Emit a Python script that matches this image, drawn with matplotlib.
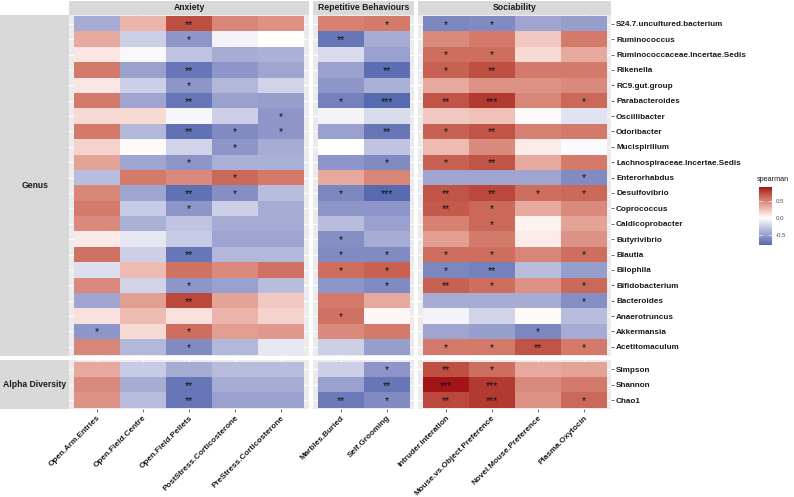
import numpy as np
import matplotlib
matplotlib.use("Agg")
import matplotlib.pyplot as plt
from matplotlib.colors import ListedColormap, Normalize

plt.rcParams['font.family'] = ['Liberation Sans', 'DejaVu Sans']

# ---------------- data ----------------
genus_rows = ["S24.7.uncultured.bacterium", "Ruminococcus", "Ruminococcaceae.Incertae.Sedis",
              "Rikenella", "RC9.gut.group", "Parabacteroides", "Oscillibacter", "Odoribacter",
              "Mucispirillum", "Lachnospiraceae.Incertae.Sedis", "Enterorhabdus", "Desulfovibrio",
              "Coprococcus", "Caldicoprobacter", "Butyrivibrio", "Blautia", "Bilophila",
              "Bifidobacterium", "Bacteroides", "Anaerotruncus", "Akkermansia", "Acetitomaculum"]
alpha_rows = ["Simpson", "Shannon", "Chao1"]

anxiety_cols = ["Open.Arm.Entries", "Open.Field.Centre", "Open.Field.Pellets",
                "PostStress.Corticosterone", "PreStress.Corticosterone"]
repetitive_cols = ["Marbles.Buried", "Self.Grooming"]
sociability_cols = ["Intruder.Interation", "Mouse.vs.Object.Preference",
                    "Novel.Mouse.Preference", "Plasma.Oxytocin"]

row_groups = ["Genus", "Alpha Diversity"]
col_groups = ["Anxiety", "Repetitive Behaviours", "Sociability"]

# spearman rho, rows = genus_rows + alpha_rows
anxiety_rho = [
    [-0.42, 0.30, 0.72, 0.50, 0.45],
    [0.35, -0.24, -0.54, -0.06, 0.00],
    [0.10, -0.03, -0.30, -0.42, -0.40],
    [0.55, -0.48, -0.72, -0.54, -0.46],
    [0.10, -0.24, -0.54, -0.36, -0.22],
    [0.55, -0.46, -0.72, -0.48, -0.50],
    [0.15, 0.15, -0.04, -0.24, -0.54],
    [0.55, -0.36, -0.74, -0.60, -0.54],
    [0.18, 0.02, -0.22, -0.54, -0.42],
    [0.38, -0.46, -0.54, -0.40, -0.40],
    [-0.34, 0.55, 0.48, 0.62, 0.55],
    [0.50, -0.46, -0.74, -0.58, -0.34],
    [0.55, -0.26, -0.54, -0.24, -0.42],
    [0.48, -0.40, -0.30, -0.42, -0.42],
    [0.08, -0.12, -0.26, -0.46, -0.46],
    [0.58, -0.24, -0.72, -0.36, -0.36],
    [-0.16, 0.28, 0.58, 0.48, 0.58],
    [0.48, -0.22, -0.54, -0.48, -0.34],
    [-0.46, 0.40, 0.75, 0.38, 0.22],
    [0.12, 0.28, 0.12, 0.30, 0.18],
    [-0.54, 0.15, 0.60, 0.40, 0.42],
    [0.50, -0.36, -0.60, -0.36, -0.12],
    [0.35, -0.26, -0.42, -0.34, -0.34],
    [0.48, -0.42, -0.72, -0.42, -0.42],
    [0.45, -0.34, -0.72, -0.48, -0.48],
]
repetitive_rho = [
    [0.52, 0.55], [-0.72, -0.42], [-0.18, -0.48], [-0.48, -0.76], [-0.54, -0.40],
    [-0.66, -0.79], [-0.06, -0.18], [-0.48, -0.72], [0.00, -0.30], [-0.54, -0.60],
    [0.35, 0.50], [-0.62, -0.78], [-0.54, -0.54], [-0.34, -0.48], [-0.58, -0.42],
    [-0.60, -0.60], [0.60, 0.65], [-0.54, -0.60], [0.55, 0.35], [0.58, 0.03],
    [0.48, 0.55], [-0.24, -0.50],
    [-0.24, -0.54], [-0.48, -0.72], [-0.70, -0.60],
]
sociability_rho = [
    [-0.62, -0.60, -0.46, -0.50],
    [0.48, 0.55, 0.22, 0.55],
    [0.60, 0.60, 0.15, 0.35],
    [0.65, 0.72, 0.55, 0.55],
    [0.35, 0.45, 0.45, 0.48],
    [0.70, 0.80, 0.50, 0.62],
    [0.22, 0.25, 0.02, -0.14],
    [0.65, 0.70, 0.52, 0.55],
    [0.28, 0.48, 0.08, -0.02],
    [0.65, 0.70, 0.35, 0.55],
    [-0.46, -0.46, -0.46, -0.60],
    [0.70, 0.75, 0.60, 0.62],
    [0.68, 0.62, 0.35, 0.48],
    [0.52, 0.62, 0.05, 0.38],
    [0.40, 0.55, 0.08, 0.45],
    [0.60, 0.60, 0.50, 0.60],
    [-0.62, -0.66, -0.34, -0.50],
    [0.65, 0.60, 0.45, 0.62],
    [-0.42, -0.42, -0.42, -0.58],
    [-0.06, -0.22, 0.02, -0.34],
    [-0.46, -0.50, -0.62, -0.42],
    [0.55, 0.55, 0.70, 0.55],
    [0.72, 0.60, 0.35, 0.38],
    [0.91, 0.80, 0.48, 0.55],
    [0.75, 0.80, 0.45, 0.62],
]

# significance level (number of stars)
anxiety_sig = [
    [0, 0, 2, 0, 0], [0, 0, 1, 0, 0], [0, 0, 0, 0, 0], [0, 0, 2, 0, 0], [0, 0, 1, 0, 0],
    [0, 0, 2, 0, 0], [0, 0, 0, 0, 1], [0, 0, 2, 1, 1], [0, 0, 0, 1, 0], [0, 0, 1, 0, 0],
    [0, 0, 0, 1, 0], [0, 0, 2, 1, 0], [0, 0, 1, 0, 0], [0, 0, 0, 0, 0], [0, 0, 0, 0, 0],
    [0, 0, 2, 0, 0], [0, 0, 0, 0, 0], [0, 0, 1, 0, 0], [0, 0, 2, 0, 0], [0, 0, 0, 0, 0],
    [1, 0, 1, 0, 0], [0, 0, 1, 0, 0],
    [0, 0, 0, 0, 0], [0, 0, 2, 0, 0], [0, 0, 2, 0, 0],
]
repetitive_sig = [
    [0, 1], [2, 0], [0, 0], [0, 2], [0, 0], [1, 3], [0, 0], [0, 2], [0, 0], [0, 1],
    [0, 0], [1, 3], [0, 0], [0, 0], [1, 0], [1, 1], [1, 1], [0, 1], [0, 0], [1, 0],
    [0, 0], [0, 0],
    [0, 1], [0, 2], [2, 1],
]
sociability_sig = [
    [1, 1, 0, 0], [0, 0, 0, 0], [1, 1, 0, 0], [1, 2, 0, 0], [0, 0, 0, 0],
    [2, 3, 0, 1], [0, 0, 0, 0], [1, 2, 0, 0], [0, 0, 0, 0], [1, 2, 0, 0],
    [0, 0, 0, 1], [2, 2, 1, 1], [2, 1, 0, 0], [0, 1, 0, 0], [0, 0, 0, 0],
    [1, 1, 0, 1], [1, 2, 0, 0], [2, 1, 0, 1], [0, 0, 0, 1], [0, 0, 0, 0],
    [0, 0, 1, 0], [1, 1, 2, 1],
    [2, 1, 0, 0], [3, 3, 0, 0], [2, 3, 0, 1],
]

legend_breaks = [-0.5, 0.0, 0.5]

# ---------------- colour scale (gradient2 in Lab) ----------------
LOW = np.array([54, 86, 163]) / 255.0
MID = np.array([255, 255, 255]) / 255.0
HIGH = np.array([163, 20, 24]) / 255.0
WHITE_REF = np.array([0.95047, 1.0, 1.08883])
M = np.array([[0.4124, 0.3576, 0.1805], [0.2126, 0.7152, 0.0722], [0.0193, 0.1192, 0.9505]])
Minv = np.linalg.inv(M)


def to_lab(c):
    lin = np.where(c <= 0.04045, c / 12.92, ((c + 0.055) / 1.055) ** 2.4)
    t = (M @ lin) / WHITE_REF
    f = np.where(t > 0.008856, np.cbrt(t), 7.787 * t + 16 / 116)
    return np.array([116 * f[1] - 16, 500 * (f[0] - f[1]), 200 * (f[1] - f[2])])


def from_lab(lab):
    fy = (lab[0] + 16) / 116
    fx = fy + lab[1] / 500
    fz = fy - lab[2] / 200
    f = np.array([fx, fy, fz])
    t = np.where(f ** 3 > 0.008856, f ** 3, (f - 16 / 116) / 7.787) * WHITE_REF
    lin = Minv @ t
    lin = np.clip(lin, 0, 1)
    c = np.where(lin <= 0.0031308, 12.92 * lin, 1.055 * lin ** (1 / 2.4) - 0.055)
    return np.clip(c, 0, 1)


lab_low, lab_mid, lab_high = to_lab(LOW), to_lab(MID), to_lab(HIGH)
cols = []
for t in np.linspace(0, 1, 512):
    if t < 0.5:
        s = t / 0.5
        lab = lab_low + (lab_mid - lab_low) * s
    else:
        s = (t - 0.5) / 0.5
        lab = lab_mid + (lab_high - lab_mid) * s
    cols.append(from_lab(lab))
cmap = ListedColormap(cols)

all_vals = np.concatenate([np.ravel(anxiety_rho), np.ravel(repetitive_rho), np.ravel(sociability_rho)])
vmin_d, vmax_d = all_vals.min(), all_vals.max()
ext = max(abs(vmin_d), abs(vmax_d))
norm = Normalize(vmin=-ext, vmax=ext)

# ---------------- layout ----------------
W, H = 794, 497
fig = plt.figure(figsize=(W / 100, H / 100), dpi=100)


def add_px_axes(x0, y0, x1, y1, **kw):
    return fig.add_axes([x0 / W, 1 - y1 / H, (x1 - x0) / W, (y1 - y0) / H], **kw)


col_x = [(69.4, 308.6), (313.2, 414.4), (418.1, 611.3)]
row_y = [(14.5, 356.1), (360.2, 409.2)]
strip_top = (0.8, 14.5)
strip_left = (0.0, 69.4)

col_data = [anxiety_rho, repetitive_rho, sociability_rho]
col_sig = [anxiety_sig, repetitive_sig, sociability_sig]
col_names = [anxiety_cols, repetitive_cols, sociability_cols]
row_names = [genus_rows, alpha_rows]
row_slices = [slice(0, len(genus_rows)), slice(len(genus_rows), len(genus_rows) + len(alpha_rows))]

TXT = "#1a1a1a"
LBL = 5.9
for ri in range(2):
    for ci in range(3):
        x0, x1 = col_x[ci]
        y0, y1 = row_y[ri]
        ax = add_px_axes(x0, y0, x1, y1)
        ax.set_facecolor("#EBEBEB")
        vals = np.array(col_data[ci])[row_slices[ri]]
        sig = np.array(col_sig[ci])[row_slices[ri]]
        nr, nc = vals.shape
        ax.pcolormesh(np.arange(nc + 1) - 0.5, np.arange(nr + 1) - 0.5, vals,
                      cmap=cmap, norm=norm, edgecolors="none", zorder=2)
        for r in range(nr):
            for c in range(nc):
                if sig[r, c] > 0:
                    ax.text(c, r + 0.06, "*" * sig[r, c], ha="center", va="center",
                            fontsize=7.5, color="#111111", zorder=3)
        ax.set_xlim(-0.6, nc - 0.4)
        ax.set_ylim(nr - 0.4, -0.6)
        ax.set_xticks(range(nc))
        ax.set_yticks(range(nr))
        ax.grid(True, color="white", linewidth=0.8, zorder=0)
        ax.set_axisbelow(True)
        for s in ax.spines.values():
            s.set_visible(False)
        ax.tick_params(axis="both", length=2.2, width=0.5, color="#333333")
        if ri == 1:
            ax.set_xticklabels(col_names[ci], rotation=45, ha="right", va="top",
                               rotation_mode="anchor", fontsize=LBL, fontweight="bold", color=TXT)
            ax.tick_params(axis="x", pad=1.5)
        else:
            ax.tick_params(axis="x", length=0, labelbottom=False)
        if ci == 2:
            ax.yaxis.tick_right()
            ax.set_yticklabels(row_names[ri], fontsize=LBL, fontweight="bold", color=TXT)
            ax.tick_params(axis="y", pad=1.2)
        else:
            ax.tick_params(axis="y", length=0, labelleft=False, labelright=False)

# top strips
for ci in range(3):
    x0, x1 = col_x[ci]
    sax = add_px_axes(x0, strip_top[0], x1, strip_top[1])
    sax.set_facecolor("#D9D9D9")
    sax.set_xticks([]); sax.set_yticks([])
    for s in sax.spines.values():
        s.set_visible(False)
    sax.text(0.5, 0.5, col_groups[ci], ha="center", va="center", fontsize=6.2,
             fontweight="bold", color=TXT, transform=sax.transAxes)

# left strips
for ri in range(2):
    y0, y1 = row_y[ri]
    sax = add_px_axes(strip_left[0], y0, strip_left[1], y1)
    sax.set_facecolor("#D9D9D9")
    sax.set_xticks([]); sax.set_yticks([])
    for s in sax.spines.values():
        s.set_visible(False)
    sax.text(0.5, 0.5, row_groups[ri], ha="center", va="center", fontsize=6.2,
             fontweight="bold", color=TXT, transform=sax.transAxes)

# legend colourbar
fig.text(757 / W, 1 - 180 / H, "spearman", ha="left", va="center", fontsize=5.2, color=TXT)
cax = add_px_axes(759, 187, 772, 245)
grad = np.linspace(vmax_d, vmin_d, 200).reshape(-1, 1)
cax.imshow(grad, cmap=cmap, norm=norm, aspect="auto",
           extent=[0, 1, vmin_d, vmax_d], origin="upper")
cax.set_xlim(0, 1)
cax.set_ylim(vmin_d, vmax_d)
cax.set_xticks([])
cax.yaxis.tick_right()
cax.set_yticks(legend_breaks)
cax.set_yticklabels([f"{b:.1f}" for b in legend_breaks], fontsize=4.4, color="#4D4D4D")
cax.tick_params(axis="y", length=0, pad=3)
for b in legend_breaks:
    cax.plot([0, 0.2], [b, b], color="white", lw=0.5)
    cax.plot([0.8, 1], [b, b], color="white", lw=0.5)
for s in cax.spines.values():
    s.set_visible(False)

fig.savefig("out.png", dpi=100)
